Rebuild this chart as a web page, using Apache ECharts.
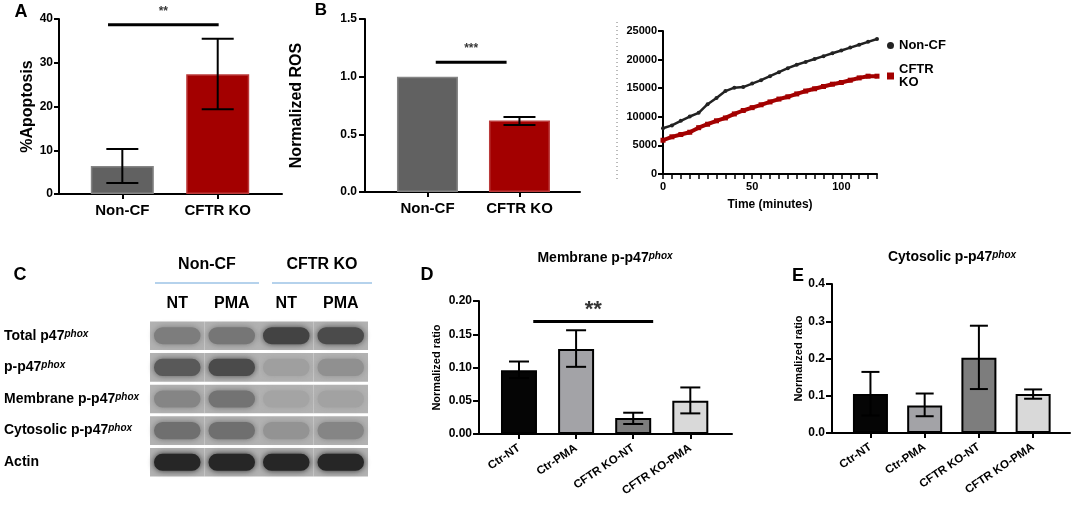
<!DOCTYPE html>
<html>
<head>
<meta charset="utf-8">
<script src="https://cdn.jsdelivr.net/npm/echarts@6/dist/echarts.min.js"></script>
<style>
html,body{margin:0;padding:0;background:#fff;}
#chart{width:1074px;height:507px;}
</style>
</head>
<body>
<div id="chart"></div>
<script>
var FONT = '"Liberation Sans", Arial, sans-serif';

// panel A: apoptosis
var groupsAB = ['Non-CF', 'CFTR KO'];
var apoptosisMean = [6.4, 27.4];
var apoptosisLow = [2.5, 19.4];
var apoptosisHigh = [10.3, 35.5];
var apoptosisSig = [-0.15, 1.01, 38.7]; // from, to, level

// panel B: normalized ROS
var rosMean = [1.0, 0.62];
var rosLow = [1.0, 0.58];
var rosHigh = [1.0, 0.65];
var rosSig = [0.09, 0.86, 1.125];

// panel B: kinetics
var timeMin = [0, 5, 10, 15, 20, 25, 30, 35, 40, 45, 50, 55, 60, 65, 70, 75, 80, 85, 90, 95, 100, 105, 110, 115, 120];
var kinNonCF = [8000, 8500, 9300, 10050, 10700, 12200, 13300, 14500, 15100, 15200, 15800, 16400, 17100,
  17800, 18500, 19100, 19600, 20100, 20600, 21100, 21600, 22100, 22600, 23100, 23600];
var kinCftrKO = [5900, 6500, 6900, 7300, 8100, 8700, 9300, 9800, 10500, 11100, 11600, 12100, 12600,
  13100, 13500, 14000, 14500, 14900, 15300, 15700, 16000, 16400, 16800, 17100, 17100];

// panel C: blot band darkness (0 light .. 1 dark), rows x lanes
var lanes = ['NT', 'PMA', 'NT', 'PMA'];
var blotRows = ['Total p47', 'p-p47', 'Membrane p-p47', 'Cytosolic p-p47', 'Actin'];
var bandTotal = [0.35, 0.4, 0.75, 0.7];
var bandPhospho = [0.6, 0.7, 0.12, 0.22];
var bandMembrane = [0.3, 0.42, 0.08, 0.1];
var bandCytosolic = [0.45, 0.45, 0.2, 0.3];
var bandActin = [0.95, 0.95, 0.95, 0.95];

// panels D, E
var conditions = ['Ctr-NT', 'Ctr-PMA', 'CFTR KO-NT', 'CFTR KO-PMA'];
var membMean = [0.096, 0.128, 0.024, 0.050];
var membLow = [0.084, 0.101, 0.015, 0.031];
var membHigh = [0.109, 0.156, 0.032, 0.070];
var membSig = [0.25, 2.35, 0.169];
var cytoMean = [0.105, 0.074, 0.202, 0.105];
var cytoLow = [0.047, 0.045, 0.118, 0.092];
var cytoHigh = [0.164, 0.106, 0.288, 0.117];

var colorsAB = ['#616161', '#a30000'];
var colorsAB_edge = ['#858585', '#bb3a3a'];
var colorsDE = ['#050505', '#a3a3a7', '#7d7d7d', '#d9d9d9'];

function catAxis(gi, min, max, names, lab) {
  var idx = names.map(function (_, i) { return i; });
  return {
    type: 'value', gridIndex: gi, min: min, max: max,
    splitLine: { show: false },
    axisLine: { show: true, onZero: false, lineStyle: { color: '#000', width: 2 } },
    axisTick: { show: true, customValues: idx, length: 5, lineStyle: { color: '#000', width: 2 } },
    axisLabel: Object.assign({
      customValues: idx, color: '#000', fontWeight: 'bold', fontFamily: FONT,
      formatter: function (v) { return names[Math.round(v)]; }
    }, lab)
  };
}

function valAxis(gi, max, interval, digits, opt) {
  return Object.assign({
    type: 'value', gridIndex: gi, min: 0, max: max, interval: interval,
    splitLine: { show: false },
    axisLine: { show: true, onZero: false, lineStyle: { color: '#000', width: 2 } },
    axisTick: { show: true, length: opt.tick || 5, lineStyle: { color: '#000', width: 2 } },
    axisLabel: {
      color: '#000', fontWeight: 'bold', fontFamily: FONT, fontSize: opt.fs || 12, margin: opt.margin || 4,
      formatter: function (v) { return v.toFixed(digits); }
    },
    nameLocation: 'middle',
    nameTextStyle: { color: '#000', fontWeight: 'bold', fontFamily: FONT, fontSize: opt.nfs || 12 }
  }, opt.extra || {});
}

function barSeries(ai, means, colors, edges, width, bw) {
  return {
    type: 'bar', xAxisIndex: ai, yAxisIndex: ai, barWidth: width, silent: true,
    data: means.map(function (m, i) {
      return { value: [i, m], itemStyle: { color: colors[i], borderColor: edges[i], borderWidth: bw } };
    })
  };
}

function errorSeries(ai, lows, highs, capHalf, lw) {
  return {
    type: 'custom', xAxisIndex: ai, yAxisIndex: ai, z: 5, silent: true,
    data: lows.map(function (l, i) { return [i, l, highs[i]]; }),
    encode: { x: 0, y: [1, 2] },
    renderItem: function (params, api) {
      if (api.value(1) === api.value(2)) return null;
      var x = api.value(0);
      var lo = api.coord([x, api.value(1)]);
      var hi = api.coord([x, api.value(2)]);
      var st = { stroke: '#000', lineWidth: lw };
      return {
        type: 'group', children: [
          { type: 'line', shape: { x1: lo[0], y1: lo[1], x2: hi[0], y2: hi[1] }, style: st },
          { type: 'line', shape: { x1: hi[0] - capHalf, y1: hi[1], x2: hi[0] + capHalf, y2: hi[1] }, style: st },
          { type: 'line', shape: { x1: lo[0] - capHalf, y1: lo[1], x2: lo[0] + capHalf, y2: lo[1] }, style: st }
        ]
      };
    }
  };
}

function sigSeries(ai, sig, text, fs, dist) {
  return [{
    type: 'line', xAxisIndex: ai, yAxisIndex: ai, silent: true, z: 6,
    data: [[sig[0], sig[2]], [sig[1], sig[2]]], symbol: 'none',
    lineStyle: { color: '#000', width: 3 }
  }, {
    type: 'scatter', xAxisIndex: ai, yAxisIndex: ai, silent: true, z: 6,
    data: [[(sig[0] + sig[1]) / 2, sig[2]]], symbolSize: 1, itemStyle: { color: 'transparent' },
    label: { show: true, position: 'top', distance: dist, formatter: text, color: '#000',
      fontSize: fs, fontWeight: 'bold', fontFamily: FONT }
  }];
}

var blotData = [];
[bandTotal, bandPhospho, bandMembrane, bandCytosolic, bandActin].forEach(function (row, r) {
  row.forEach(function (v, l) { blotData.push([l, r, v]); });
});

function greyOf(v) {
  var g = Math.round(176 - 145 * v);
  return 'rgb(' + g + ',' + g + ',' + g + ')';
}

var rich = {
  m: { fontSize: 14, fontWeight: 'bold', fontFamily: FONT, color: '#000', verticalAlign: 'bottom' },
  s: { fontSize: 10, fontWeight: 'bold', fontStyle: 'italic', fontFamily: FONT, color: '#000', verticalAlign: 'top' }
};
var richTitle = {
  m: { fontSize: 14, fontWeight: 'bold', fontFamily: FONT, color: '#000', verticalAlign: 'bottom' },
  s: { fontSize: 10, fontWeight: 'bold', fontStyle: 'italic', fontFamily: FONT, color: '#000', verticalAlign: 'top' }
};

function letter(t, x, y, fs) {
  return { type: 'text', x: x, y: y, style: { text: t, fontSize: fs || 18, fontWeight: 'bold', fontFamily: FONT,
    fill: '#000', align: 'center', verticalAlign: 'middle' } };
}

var option = {
  animation: false,
  backgroundColor: '#fff',
  textStyle: { fontFamily: FONT },
  grid: [
    { left: 59, top: 19, width: 223, height: 175 },
    { left: 365, top: 19, width: 215, height: 173 },
    { left: 663, top: 31, width: 214, height: 143 },
    { left: 150, top: 320, width: 218, height: 158 },
    { left: 479, top: 301, width: 253, height: 133 },
    { left: 832, top: 284, width: 238, height: 149 }
  ],
  xAxis: [
    catAxis(0, -0.664, 1.674, groupsAB, { fontSize: 15, margin: 9 }),
    catAxis(1, -0.679, 1.658, groupsAB, { fontSize: 15, margin: 9 }),
    {
      type: 'value', gridIndex: 2, min: 0, max: 120,
      splitLine: { show: false },
      axisLine: { show: true, onZero: false, lineStyle: { color: '#000', width: 2 } },
      axisTick: { show: true, length: 5, customValues: timeMin, lineStyle: { color: '#000', width: 1.5 } },
      axisLabel: { customValues: [0, 50, 100], color: '#000', fontWeight: 'bold', fontSize: 11, margin: 7 },
      name: 'Time (minutes)', nameLocation: 'middle', nameGap: 25,
      nameTextStyle: { color: '#000', fontWeight: 'bold', fontSize: 12, fontFamily: FONT }
    },
    {
      type: 'category', gridIndex: 3, data: lanes, position: 'top',
      axisLine: { show: false }, axisTick: { show: false },
      axisLabel: { color: '#000', fontWeight: 'bold', fontSize: 16, margin: 8 }
    },
    catAxis(4, -0.70, 3.73, conditions, { fontSize: 11.5, rotate: 34, margin: 13 }),
    catAxis(5, -0.709, 3.68, conditions, { fontSize: 11.5, rotate: 34, margin: 13 })
  ],
  yAxis: [
    valAxis(0, 40, 10, 0, { fs: 12, margin: 6, tick: 5, nfs: 16, extra: { name: '%Apoptosis', nameGap: 22 } }),
    valAxis(1, 1.5, 0.5, 1, { fs: 12, margin: 8, tick: 6, nfs: 16, extra: { name: 'Normalized ROS', nameGap: 60 } }),
    valAxis(2, 25000, 5000, 0, { fs: 11, margin: 6, tick: 5 }),
    {
      type: 'category', gridIndex: 3, data: blotRows, inverse: true,
      axisLine: { show: false }, axisTick: { show: false },
      axisLabel: {
        align: 'left', margin: 146, rich: rich,
        formatter: function (v) { return v === 'Actin' ? '{m|Actin}' : '{m|' + v + '}{s|phox}'; }
      }
    },
    valAxis(4, 0.2, 0.05, 2, { fs: 12, margin: 7, tick: 6, nfs: 11, extra: { name: 'Normalized ratio', nameGap: 37 } }),
    valAxis(5, 0.4, 0.1, 1, { fs: 12, margin: 7, tick: 6, nfs: 11, extra: { name: 'Normalized ratio', nameGap: 28 } })
  ],
  legend: {
    left: 882, top: 34, orient: 'vertical', itemWidth: 7, itemHeight: 7, itemGap: 11,
    textStyle: { color: '#000', fontWeight: 'bold', fontSize: 13, fontFamily: FONT },
    data: [{ name: 'Non-CF', icon: 'circle' }, { name: 'CFTR\nKO', icon: 'rect' }]
  },
  graphic: [
    letter('A', 21, 12), letter('B', 321, 10, 17), letter('C', 20, 275), letter('D', 427, 275), letter('E', 798, 276),
    { type: 'line', shape: { x1: 617, y1: 22, x2: 617, y2: 181 },
      style: { stroke: '#777', lineWidth: 1, lineDash: [1, 3] } },
    { type: 'text', x: 605, y: 258, style: { text: '{m|Membrane p-p47}{s|phox}', rich: richTitle, align: 'center', verticalAlign: 'middle' } },
    { type: 'text', x: 952, y: 257, style: { text: '{m|Cytosolic p-p47}{s|phox}', rich: richTitle, align: 'center', verticalAlign: 'middle' } },
    { type: 'text', x: 207, y: 265, style: { text: 'Non-CF', fontSize: 16, fontWeight: 'bold', fontFamily: FONT, fill: '#000', align: 'center', verticalAlign: 'middle' } },
    { type: 'text', x: 322, y: 265, style: { text: 'CFTR KO', fontSize: 16, fontWeight: 'bold', fontFamily: FONT, fill: '#000', align: 'center', verticalAlign: 'middle' } },
    { type: 'line', shape: { x1: 155, y1: 283, x2: 259, y2: 283 }, style: { stroke: '#9cc3e6', lineWidth: 1.5 } },
    { type: 'line', shape: { x1: 272, y1: 283, x2: 372, y2: 283 }, style: { stroke: '#9cc3e6', lineWidth: 1.5 } }
  ],
  series: [
    barSeries(0, apoptosisMean, colorsAB, colorsAB_edge, 63, 1.5),
    errorSeries(0, apoptosisLow, apoptosisHigh, 16, 2),
    barSeries(1, rosMean, colorsAB, colorsAB_edge, 61, 1.5),
    errorSeries(1, rosLow, rosHigh, 16, 2),
    {
      type: 'line', name: 'Non-CF', xAxisIndex: 2, yAxisIndex: 2, silent: true,
      data: timeMin.map(function (t, i) { return [t, kinNonCF[i]]; }),
      symbol: 'circle', symbolSize: 4, showSymbol: true,
      lineStyle: { color: '#222', width: 2.5 }, itemStyle: { color: '#222' }
    },
    {
      type: 'line', name: 'CFTR\nKO', xAxisIndex: 2, yAxisIndex: 2, silent: true,
      data: timeMin.map(function (t, i) { return [t, kinCftrKO[i]]; }),
      symbol: 'rect', symbolSize: 5, showSymbol: true,
      lineStyle: { color: '#a30000', width: 4 }, itemStyle: { color: '#a30000' }
    },
    {
      type: 'custom', xAxisIndex: 3, yAxisIndex: 3, silent: true,
      data: blotData, encode: { x: 0, y: 1 },
      renderItem: function (params, api) {
        var c = api.coord([api.value(0), api.value(1)]);
        var s = api.size([1, 1]);
        var w = s[0], h = s[1];
        var fill = greyOf(api.value(2));
        return {
          type: 'group', children: [
            { type: 'rect', shape: { x: c[0] - w / 2, y: c[1] - h / 2 + 1.5, width: w, height: h - 3 },
              style: { fill: '#b2b2b2' } },
            { type: 'rect', shape: { x: c[0] - w / 2 + 4, y: c[1] - h * 0.27, width: w - 8, height: h * 0.54, r: h * 0.27 },
              style: { fill: fill, shadowBlur: 6, shadowColor: fill } }
          ]
        };
      }
    },
    barSeries(4, membMean, colorsDE, ['#000', '#000', '#000', '#000'], 36, 2),
    errorSeries(4, membLow, membHigh, 10, 2),
    barSeries(5, cytoMean, colorsDE, ['#000', '#000', '#000', '#000'], 35, 2),
    errorSeries(5, cytoLow, cytoHigh, 9, 2)
  ].concat(sigSeries(0, apoptosisSig, '**', 12, 7))
   .concat(sigSeries(1, rosSig, '***', 12, 7))
   .concat(sigSeries(4, membSig, '**', 22, 0))
};

var chart = echarts.init(document.getElementById('chart'));
chart.setOption(option);
</script>
</body>
</html>
